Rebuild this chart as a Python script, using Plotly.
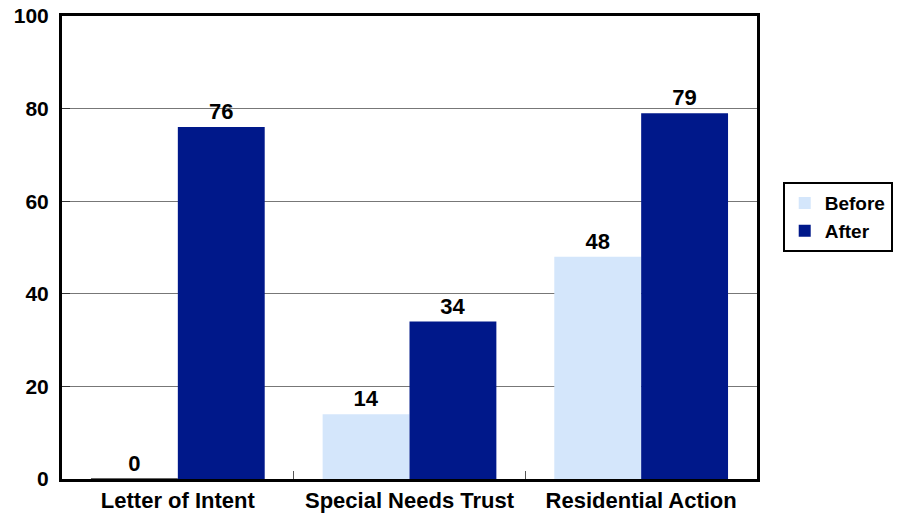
import plotly.graph_objects as go

categories = ["Letter of Intent", "Special Needs Trust", "Residential Action"]
before = [0, 14, 48]
after = [76, 34, 79]

FONT = "Liberation Sans, Arial, sans-serif"
BEFORE_COLOR = "#D4E6FB"
AFTER_COLOR = "#00188A"

fig = go.Figure()
fig.add_trace(go.Bar(
    name="Before", x=categories, y=before, offsetgroup="before",
    marker=dict(color=BEFORE_COLOR, line=dict(color="#333333", width=[1.5, 0, 0])),
    text=[str(v) for v in before], textposition="outside",
    textfont=dict(family=FONT, size=22, color="black"),
    cliponaxis=False, showlegend=False,
))
# legend entry for Before (no outline)
fig.add_trace(go.Bar(
    name="Before", x=categories, y=[None] * len(categories), offsetgroup="before",
    marker=dict(color=BEFORE_COLOR, line=dict(width=0)),
    showlegend=True, hoverinfo="skip",
))
fig.add_trace(go.Bar(
    name="After", x=categories, y=after, offsetgroup="after",
    marker=dict(color=AFTER_COLOR, line=dict(width=0)),
    text=[str(v) for v in after], textposition="outside",
    textfont=dict(family=FONT, size=22, color="black"),
    cliponaxis=False,
))

fig.update_layout(
    width=907, height=514,
    margin=dict(l=62, r=150, t=16, b=35),
    paper_bgcolor="white", plot_bgcolor="white",
    barmode="group", bargap=0.25, bargroupgap=0,
    font=dict(family=FONT, size=22, color="black", weight="bold"),
    showlegend=True,
    legend=dict(
        x=1.037, y=0.641, xanchor="left", yanchor="top",
        bordercolor="black", borderwidth=2,
        font=dict(family=FONT, size=19, color="black", weight="bold"),
        itemsizing="constant", tracegroupgap=0, itemwidth=30,
    ),
)
fig.update_xaxes(
    showline=True, linecolor="black", linewidth=3, mirror=True,
    ticks="inside", tickson="boundaries", ticklen=8, tickcolor="#555555", tickwidth=1,
    tickfont=dict(family=FONT, size=22, color="black", weight="bold"),
    showgrid=False, automargin=False,
)
fig.update_yaxes(
    range=[0, 100], tickvals=[0, 20, 40, 60, 80, 100],
    showline=True, linecolor="black", linewidth=3, mirror=True,
    ticks="inside", ticklen=8, tickcolor="#333333", tickwidth=1,
    showgrid=True, gridcolor="#777777", gridwidth=1,
    tickfont=dict(family=FONT, size=21, color="black", weight="bold"),
    ticklabelstandoff=6,
    zeroline=False, automargin=False,
)
fig.write_html("out.html", config={"displayModeBar": False},
               post_script="document.body.style.margin='0';")
